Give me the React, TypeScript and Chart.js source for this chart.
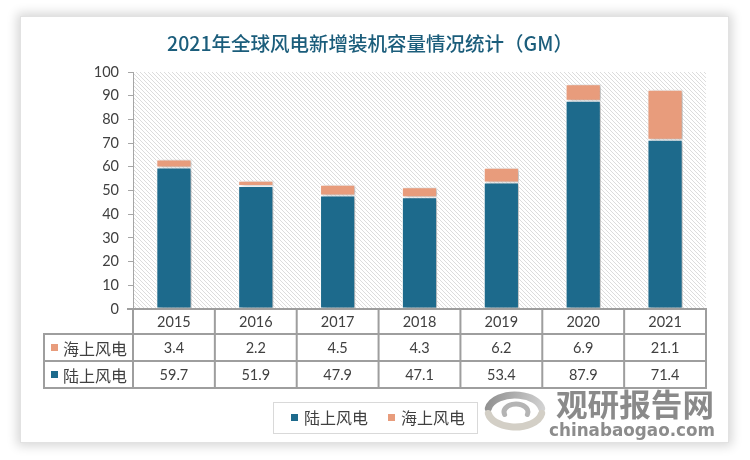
import React, { useEffect, useRef } from "react";
import { Chart, registerables } from "chart.js";

Chart.register(...registerables);

const TITLE = "2021年全球风电新增装机容量情况统计（GM）";
const years = ["2015", "2016", "2017", "2018", "2019", "2020", "2021"];
const onshore = [59.7, 51.9, 47.9, 47.1, 53.4, 87.9, 71.4];
const offshore = [3.4, 2.2, 4.5, 4.3, 6.2, 6.9, 21.1];
const onshoreLabel = "陆上风电";
const offshoreLabel = "海上风电";
const yMax = 100;
const yStep = 10;
const watermarkCN = "观研报告网";
const watermarkEN = "chinabaogao.com";

const BLUE = "#1D6A8C";
const ORANGE = "#E89C7C";
const TEXT = "#404040";
const LINE = "#9e9e9e";
const CJK = '"Noto Sans CJK SC", "Noto Sans", sans-serif';
const NUM = 'Lato, "Open Sans", sans-serif';

function makeHatch(): CanvasPattern | string {
  const c = document.createElement("canvas");
  const s = 4;
  c.width = s;
  c.height = s;
  const g = c.getContext("2d");
  if (!g) return "#f0f0f0";
  g.fillStyle = "#ffffff";
  g.fillRect(0, 0, s, s);
  g.fillStyle = "#dcdcdc";
  for (let i = 0; i < s; i++) g.fillRect(i, i, 1, 1);
  return g.createPattern(c, "repeat") || "#f0f0f0";
}

const decoPlugin = {
  id: "deco",
  beforeDraw(chart: any) {
    const { ctx, chartArea: a } = chart;
    ctx.save();
    ctx.fillStyle = makeHatch();
    ctx.fillRect(a.left, a.top, a.right - a.left, a.bottom - a.top);
    ctx.restore();
  },
  beforeDatasetsDraw(chart: any) {
    const ctx = chart.ctx;
    ctx.save();
    ctx.shadowColor = "rgba(0,0,0,0.28)";
    ctx.shadowBlur = 4;
    ctx.shadowOffsetX = 3;
    ctx.shadowOffsetY = 1;
  },
  afterDatasetsDraw(chart: any) {
    chart.ctx.restore();
  },
  afterDraw(chart: any) {
    const { ctx, chartArea: a } = chart;
    const xs = chart.scales.x;
    const n = years.length;
    const colW = (a.right - a.left) / n;

    // Title
    ctx.save();
    ctx.fillStyle = "#1b5d7b";
    ctx.font = `500 19.5px ${CJK}`;
    ctx.textAlign = "center";
    ctx.textBaseline = "middle";
    ctx.fillText(TITLE, 370, 44);
    ctx.restore();

    // Data table
    const top = a.bottom;
    const hdrB = top + 25;
    const r1B = hdrB + 27;
    const r2B = r1B + 27;
    const tblL = 44;
    ctx.save();
    ctx.strokeStyle = LINE;
    ctx.lineWidth = 2;
    ctx.beginPath();
    ctx.moveTo(a.left - 6, top);
    ctx.lineTo(a.right + 1, top);
    ctx.moveTo(tblL - 1, hdrB);
    ctx.lineTo(a.right + 1, hdrB);
    ctx.moveTo(tblL - 1, r1B);
    ctx.lineTo(a.right + 1, r1B);
    ctx.moveTo(tblL - 1, r2B);
    ctx.lineTo(a.right + 1, r2B);
    ctx.moveTo(tblL, hdrB);
    ctx.lineTo(tblL, r2B);
    for (let i = 0; i <= n; i++) {
      const x = a.left + i * colW;
      ctx.moveTo(x, top);
      ctx.lineTo(x, r2B);
    }
    ctx.stroke();

    ctx.fillStyle = TEXT;
    ctx.textAlign = "center";
    ctx.textBaseline = "middle";
    ctx.font = `14.5px ${NUM}`;
    const ds = chart.data.datasets;
    for (let i = 0; i < n; i++) {
      const cx = xs.getPixelForValue(i);
      ctx.fillText(String(chart.data.labels[i]), cx, (top + hdrB) / 2 + 1);
      ctx.fillText(String(ds[1].data[i]), cx, (hdrB + r1B) / 2 + 1);
      ctx.fillText(String(ds[0].data[i]), cx, (r1B + r2B) / 2 + 1);
    }
    const rowLabels = [
      { label: ds[1].label, color: ds[1].backgroundColor, y: (hdrB + r1B) / 2 },
      { label: ds[0].label, color: ds[0].backgroundColor, y: (r1B + r2B) / 2 },
    ];
    ctx.textAlign = "left";
    ctx.font = `16px ${CJK}`;
    for (const r of rowLabels) {
      ctx.fillStyle = r.color;
      ctx.fillRect(51, r.y - 3.5, 7, 7);
      ctx.fillStyle = TEXT;
      ctx.fillText(r.label, 63, r.y + 1);
    }
    ctx.restore();

    // Legend
    ctx.save();
    ctx.strokeStyle = "#d9d9d9";
    ctx.lineWidth = 1;
    ctx.strokeRect(273.5, 402.5, 204, 31);
    ctx.font = `16px ${CJK}`;
    ctx.textAlign = "left";
    ctx.textBaseline = "middle";
    const legendItems = [
      { label: ds[0].label, color: ds[0].backgroundColor, x: 291 },
      { label: ds[1].label, color: ds[1].backgroundColor, x: 388 },
    ];
    for (const it of legendItems) {
      ctx.fillStyle = it.color;
      ctx.fillRect(it.x, 414, 7, 7);
      ctx.fillStyle = TEXT;
      ctx.fillText(it.label, it.x + 13, 418);
    }
    ctx.restore();

    // Watermark
    ctx.save();
    ctx.lineCap = "round";
    ctx.lineWidth = 7;
    const grad = ctx.createLinearGradient(485, 395, 545, 410);
    grad.addColorStop(0, "#8d8d8d");
    grad.addColorStop(1, "#d4d4d4");
    ctx.strokeStyle = grad;
    ctx.beginPath();
    ctx.ellipse(515, 411, 27, 16, 0, Math.PI * 1.05, Math.PI * 1.95);
    ctx.stroke();
    ctx.strokeStyle = "#d3cfc6";
    ctx.beginPath();
    ctx.ellipse(515, 411, 27, 16, 0, Math.PI * 0.05, Math.PI * 0.95);
    ctx.stroke();
    ctx.lineWidth = 5;
    ctx.strokeStyle = "#b4b4b4";
    ctx.beginPath();
    ctx.ellipse(516, 412, 12, 8, 0, Math.PI * 0.9, Math.PI * 2.1);
    ctx.stroke();

    ctx.fillStyle = "#8a8a8a";
    ctx.textBaseline = "middle";
    ctx.textAlign = "left";
    ctx.font = `bold 31px ${CJK}`;
    let w = ctx.measureText(watermarkCN).width;
    ctx.save();
    ctx.translate(556, 404);
    ctx.scale(158 / w, 1);
    ctx.fillText(watermarkCN, 0, 0);
    ctx.restore();
    ctx.fillStyle = "#8c8c8c";
    ctx.font = `bold 18px "DejaVu Sans", sans-serif`;
    w = ctx.measureText(watermarkEN).width;
    ctx.save();
    ctx.translate(549, 431);
    ctx.scale(166 / w, 1);
    ctx.fillText(watermarkEN, 0, 0);
    ctx.restore();
    ctx.restore();
  },
};

export default function App() {
  const ref = useRef<HTMLCanvasElement>(null);

  useEffect(() => {
    const canvas = ref.current;
    if (!canvas) return;
    const chart = new Chart(canvas, {
      type: "bar",
      data: {
        labels: years,
        datasets: [
          {
            label: onshoreLabel,
            data: onshore,
            backgroundColor: BLUE,
            borderColor: "#ffffff",
            borderWidth: 1,
            borderSkipped: false,
            categoryPercentage: 1,
            barPercentage: 0.43,
          },
          {
            label: offshoreLabel,
            data: offshore,
            backgroundColor: ORANGE,
            borderColor: "#ffffff",
            borderWidth: 1,
            borderSkipped: false,
            categoryPercentage: 1,
            barPercentage: 0.43,
          },
        ],
      },
      options: {
        responsive: false,
        animation: false,
        devicePixelRatio: 1,
        layout: { padding: { left: 0, right: 44, top: 72, bottom: 151 } },
        plugins: {
          legend: { display: false },
          title: { display: false },
          tooltip: { enabled: false },
        },
        scales: {
          x: { stacked: true, display: false },
          y: {
            stacked: true,
            min: 0,
            max: yMax,
            ticks: {
              stepSize: yStep,
              color: TEXT,
              font: { family: NUM, size: 14.5 },
              padding: 9,
            },
            grid: {
              drawOnChartArea: false,
              color: "#a6a6a6",
              tickLength: 5,
              lineWidth: 1,
            },
            border: { color: "#a6a6a6", width: 1 },
            afterFit: (s: any) => {
              s.width = 133;
            },
          },
        },
      },
      plugins: [decoPlugin],
    } as any);
    return () => chart.destroy();
  }, []);

  return (
    <div
      style={{
        position: "fixed",
        left: 0,
        top: 0,
        width: 750,
        height: 460,
        background: "#ffffff",
        overflow: "hidden",
      }}
    >
      <div
        style={{
          position: "absolute",
          left: 20,
          top: 16,
          width: 707,
          height: 425,
          border: "1px solid #e2e2e2",
          boxShadow: "0 0 10px 3px rgba(0,0,0,0.16)",
          background: "#ffffff",
        }}
      />
      <canvas
        ref={ref}
        width={750}
        height={460}
        style={{ position: "absolute", left: 0, top: 0, width: 750, height: 460 }}
      />
    </div>
  );
}
